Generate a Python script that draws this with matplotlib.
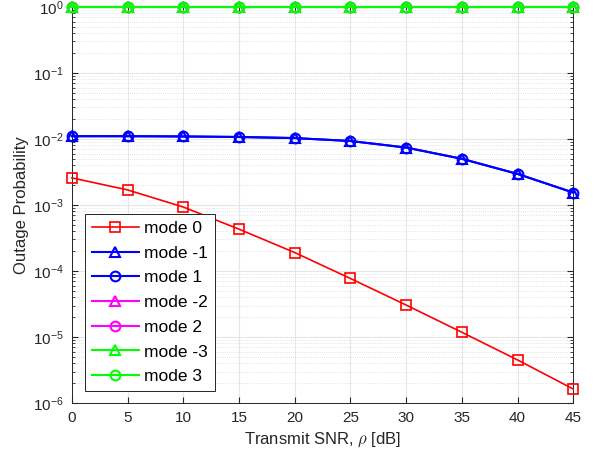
import matplotlib
matplotlib.use("Agg")
import matplotlib.pyplot as plt
from matplotlib.ticker import LogLocator, NullFormatter, FixedLocator

plt.rcParams['font.family'] = ['Liberation Sans', 'DejaVu Sans']
plt.rcParams['mathtext.fontset'] = 'cm'

snr_db = [0, 5, 10, 15, 20, 25, 30, 35, 40, 45]
mode_0 = [2.57e-3, 1.69e-3, 9.3e-4, 4.3e-4, 1.9e-4, 7.7e-5, 3.05e-5, 1.18e-5, 4.5e-6, 1.63e-6]
mode_m1 = [1.1e-2, 1.1e-2, 1.09e-2, 1.07e-2, 1.03e-2, 9.3e-3, 7.4e-3, 5.0e-3, 2.95e-3, 1.54e-3]
mode_p1 = mode_m1
mode_m2 = [1.0] * 10
mode_p2 = [1.0] * 10
mode_m3 = [1.0] * 10
mode_p3 = [1.0] * 10

fig = plt.figure(figsize=(5.99, 4.58), dpi=100)
ax = fig.add_axes([0.120, 0.120, 0.837, 0.865])

ms = 7
series = [
    (mode_0, '#ff0000', 's', 'mode 0', 1.2),
    (mode_m1, '#0000ff', '^', 'mode -1', 1.5),
    (mode_p1, '#0000ff', 'o', 'mode 1', 1.5),
    (mode_m2, '#ff00ff', '^', 'mode -2', 1.5),
    (mode_p2, '#ff00ff', 'o', 'mode 2', 1.5),
    (mode_m3, '#00ff00', '^', 'mode -3', 1.5),
    (mode_p3, '#00ff00', 'o', 'mode 3', 1.5),
]
for vals, col, mk, lab, lw in series:
    ax.plot(snr_db, vals, color=col, marker=mk, mfc='none', ms=ms, lw=lw, mew=lw,
            label=lab, clip_on=False, zorder=3)

ax.set_yscale('log')
ax.set_xlim(0, 45)
ax.set_ylim(1e-6, 1e0)
ax.xaxis.set_major_locator(FixedLocator(snr_db))
ax.yaxis.set_major_locator(LogLocator(base=10, numticks=10))
ax.yaxis.set_minor_locator(LogLocator(base=10, subs=range(2, 10), numticks=20))
ax.yaxis.set_minor_formatter(NullFormatter())

ax.grid(True, which='major', color='#e6e6e6', lw=0.8, ls='-')
ax.grid(True, which='minor', axis='y', color='#dcdcdc', lw=0.6, ls=':')
ax.set_axisbelow(True)

for s in ax.spines.values():
    s.set_color('#262626')
    s.set_linewidth(0.7)
ax.tick_params(which='both', direction='in', top=True, right=True, colors='#262626', labelsize=11)
ax.tick_params(which='minor', length=2)
ax.tick_params(which='major', length=4, pad=6)

ax.set_xlabel(r'Transmit SNR, $\rho$ [dB]', fontsize=12, color='#262626', labelpad=4)
ax.set_ylabel('Outage Probability', fontsize=12, color='#262626', labelpad=3)

leg = ax.legend(loc='lower left', bbox_to_anchor=(0.026, 0.03), fontsize=12.5, fancybox=False,
                edgecolor='#262626', framealpha=1, borderpad=0.4, handlelength=2.7,
                labelspacing=0.55, handletextpad=0.3, borderaxespad=0)
leg.get_frame().set_linewidth(0.7)
leg.set_zorder(5)

fig.savefig('out.png', dpi=100)
